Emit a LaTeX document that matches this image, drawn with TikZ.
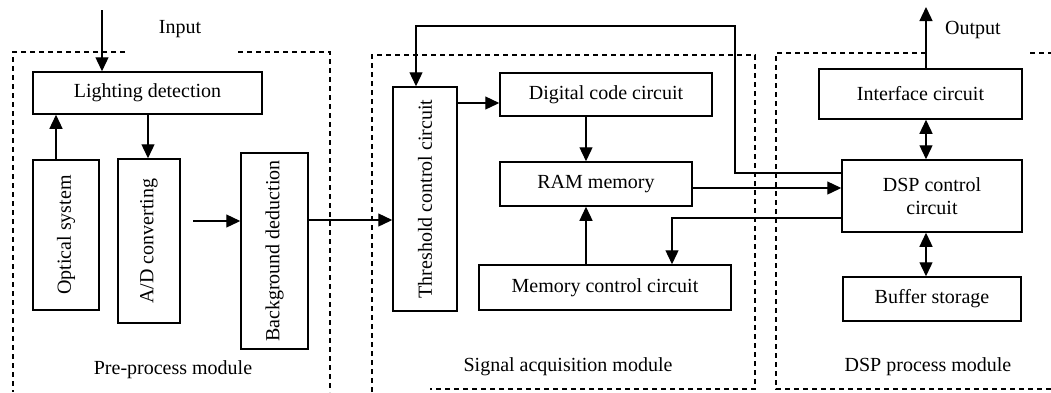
\documentclass[tikz,border=0pt]{standalone}
\usepackage{fontspec}
\setmainfont{Liberation Serif}
\usetikzlibrary{arrows.meta}
\begin{document}
\begin{tikzpicture}[x=1pt,y=-1pt,
  blk/.style={draw, line width=1.5pt, inner sep=0pt, align=center, font=\fontsize{20}{23}\selectfont},
  lbl/.style={inner sep=0pt, font=\fontsize{20}{23}\selectfont},
  conn/.style={line width=1.3pt},
  arr/.style={conn, -{Triangle[length=14pt,width=13pt]}},
  darr/.style={conn, {Triangle[length=14pt,width=13pt]}-{Triangle[length=14pt,width=13pt]}},
  modbox/.style={line width=1.4pt, dash pattern=on 5pt off 4pt}]
\useasboundingbox (0,0) rectangle (1051,392);

% module frames
\draw[modbox] (125,52) -- (13,52) -- (13,392);
\draw[modbox] (238,52) -- (330,52) -- (330,392);
\draw[modbox] (372,392) -- (372,55) -- (755,55) -- (755,389) -- (430,389);
\draw[modbox] (926,53) -- (776,53) -- (776,389) -- (1051,389);
\draw[modbox] (1030,53) -- (1051,53);

% blocks
\node[blk, minimum width=229pt, minimum height=42pt] (light) at (147.5,93) {Lighting detection};
\node[blk, rotate=90, minimum width=150pt, minimum height=66pt] (opt) at (66,235) {Optical system};
\node[blk, rotate=90, minimum width=164pt, minimum height=62pt] (ad) at (149,241) {A/D converting};
\node[blk, rotate=90, minimum width=196pt, minimum height=67pt] (bg) at (274.5,251) {Background deduction};
\node[blk, rotate=90, minimum width=224pt, minimum height=64pt] (thr) at (425,199) {Threshold control circuit};
\node[blk, minimum width=212pt, minimum height=43pt] (dig) at (606,94.5) {Digital code circuit};
\node[blk, minimum width=192pt, minimum height=44pt] (ram) at (596,184) {RAM memory};
\node[blk, minimum width=252pt, minimum height=45pt] (mem) at (605,287.5) {Memory control circuit};
\node[blk, minimum width=203pt, minimum height=50pt] (intf) at (920.5,94) {Interface circuit};
\node[blk, minimum width=180pt, minimum height=72pt] (dsp) at (932,196) {DSP control\\circuit};
\node[blk, minimum width=178pt, minimum height=44pt] (buf) at (932,299) {Buffer storage};

% labels
\node[lbl] (lin) at (180,29) {Input};
\node[lbl] (lout) at (973,30) {Output};
\node[lbl] (lpre) at (173,370) {Pre-process module};
\node[lbl] (lsig) at (568,367) {Signal acquisition module};
\node[lbl] (ldsp) at (928,367) {DSP process module};

% helper coordinates
\coordinate (inp) at (102,10);
\coordinate (outp) at (926,7);
\coordinate (xopt) at (56,0);
\coordinate (xad) at (148,0);
\coordinate (adout) at (193,221);
\coordinate (yin) at (0,220);
\coordinate (fbA) at (416,26);
\coordinate (fbB) at (735,173);
\coordinate (ytd) at (0,103);
\coordinate (xram) at (586,0);
\coordinate (yrd) at (0,188);
\coordinate (dm) at (672,218);

% connectors
\draw[arr] (inp) -- (inp |- light.north);
\draw[arr] (intf.north -| outp) -- (outp);
\draw[arr] (opt.east -| xopt) -- (light.south -| xopt);
\draw[arr] (light.south -| xad) -- (ad.east -| xad);
\draw[arr] (adout) -- (adout -| bg.north);
\draw[arr] (bg.south |- yin) -- (thr.north |- yin);
\draw[arr] (dsp.west |- fbB) -- (fbB) |- (fbA) -- (fbA |- thr.east);
\draw[arr] (thr.south |- ytd) -- (dig.west |- ytd);
\draw[arr] (dig.south -| xram) -- (ram.north -| xram);
\draw[arr] (mem.north -| xram) -- (ram.south -| xram);
\draw[arr] (ram.east |- yrd) -- (dsp.west |- yrd);
\draw[arr] (dsp.west |- dm) -- (dm) -- (dm |- mem.north);
\draw[darr] (intf.south -| outp) -- (dsp.north -| outp);
\draw[darr] (dsp.south -| outp) -- (buf.north -| outp);
\end{tikzpicture}
\end{document}
